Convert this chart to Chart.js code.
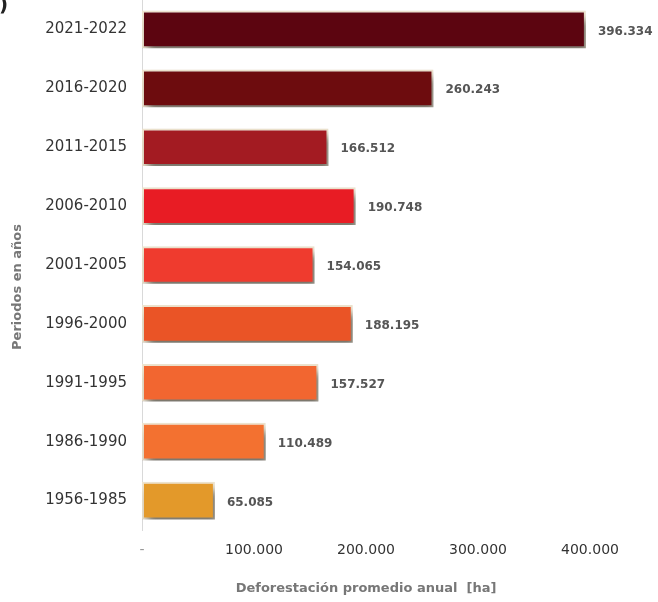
<!DOCTYPE html>
<html>
<head>
<meta charset="utf-8">
<script src="https://cdn.jsdelivr.net/npm/chart.js@4.4.0/dist/chart.umd.min.js"></script>
<style>
  html, body { margin: 0; padding: 0; background: #fff; }
  #wrap { position: relative; width: 658px; height: 602px; }
  #corner { position: absolute; left: -1px; top: -8px; font: bold 20px "DejaVu Sans"; color: #222; }
</style>
</head>
<body>
<div id="wrap">
  <canvas id="barChart" width="658" height="602"></canvas>
  <span id="corner">)</span>
</div>
<script>
const periodos = ['2021-2022', '2016-2020', '2011-2015', '2006-2010', '2001-2005', '1996-2000', '1991-1995', '1986-1990', '1956-1985'];
const deforestacion = [396334, 260243, 166512, 190748, 154065, 188195, 157527, 110489, 65085];
const warnaBar = ['#5c0510', '#6d0c0e', '#a31b22', '#e81c24', '#ef3b2e', '#ea5426', '#f26630', '#f37130', '#e3992a'];
const tickX = [0, 100000, 200000, 300000, 400000];

const fmt = v => v === 0 ? '-' : v.toLocaleString('de-DE');

// bayangan bar
const shadowPlugin = {
  id: 'shadowBar',
  beforeDatasetDraw(chart) {
    const c = chart.ctx;
    c.save();
    c.shadowColor = 'rgba(0,0,0,0.5)';
    c.shadowBlur = 8;
    c.shadowOffsetX = 4;
    c.shadowOffsetY = 7;
  },
  afterDatasetDraw(chart) {
    chart.ctx.restore();
  }
};

// label nilai & judul sumbu Y
const labelPlugin = {
  id: 'labelNilai',
  afterDatasetsDraw(chart) {
    const c = chart.ctx;
    const meta = chart.getDatasetMeta(0);
    c.save();
    c.font = 'bold 12px "DejaVu Sans"';
    c.fillStyle = '#555';
    c.textAlign = 'left';
    c.textBaseline = 'middle';
    meta.data.forEach((bar, i) => {
      c.fillText(fmt(deforestacion[i]), bar.x + 12, bar.y + 2);
    });
    c.translate(18, 287);
    c.rotate(-Math.PI / 2);
    c.textAlign = 'center';
    c.font = 'bold 13px "DejaVu Sans"';
    c.fillStyle = '#777';
    c.fillText('Periodos en años', 0, 0);
    c.restore();
  }
};

const ctx = document.getElementById('barChart').getContext('2d');
new Chart(ctx, {
  type: 'bar',
  data: {
    labels: periodos,
    datasets: [{
      data: deforestacion,
      backgroundColor: warnaBar,
      borderColor: '#eee4cf',
      borderWidth: 2,
      borderSkipped: false,
      barPercentage: 0.64,
      categoryPercentage: 1
    }]
  },
  options: {
    indexAxis: 'y',
    responsive: false,
    animation: false,
    layout: { padding: { left: 0, right: 68, top: 0, bottom: 0 } },
    plugins: { legend: { display: false }, tooltip: { enabled: false } },
    scales: {
      x: {
        min: 0,
        max: 400000,
        afterBuildTicks: s => { s.ticks = tickX.map(v => ({ value: v })); },
        afterFit: s => { s.height = 72; s.paddingLeft = 0; s.paddingRight = 0; },
        grid: { display: false, drawTicks: false },
        border: { display: false },
        ticks: {
          padding: 12,
          color: ctx => ctx.tick.value === 0 ? '#999' : '#333',
          font: { family: 'DejaVu Sans', size: 14 },
          callback: v => fmt(v),
          maxRotation: 0
        },
        title: {
          display: true,
          text: 'Deforestación promedio anual  [ha]',
          color: '#777',
          font: { family: 'DejaVu Sans', size: 13, weight: 'bold' },
          padding: { top: 0, bottom: 6 }
        }
      },
      y: {
        afterFit: s => { s.width = 142; s.paddingTop = 0; s.paddingBottom = 0; },
        grid: { display: false, drawTicks: false },
        border: { display: true, color: '#d9d9d9', width: 1 },
        ticks: {
          padding: 15,
          color: '#333',
          font: { family: 'DejaVu Sans', size: 15 }
        }
      }
    }
  },
  plugins: [shadowPlugin, labelPlugin]
});
</script>
</body>
</html>
